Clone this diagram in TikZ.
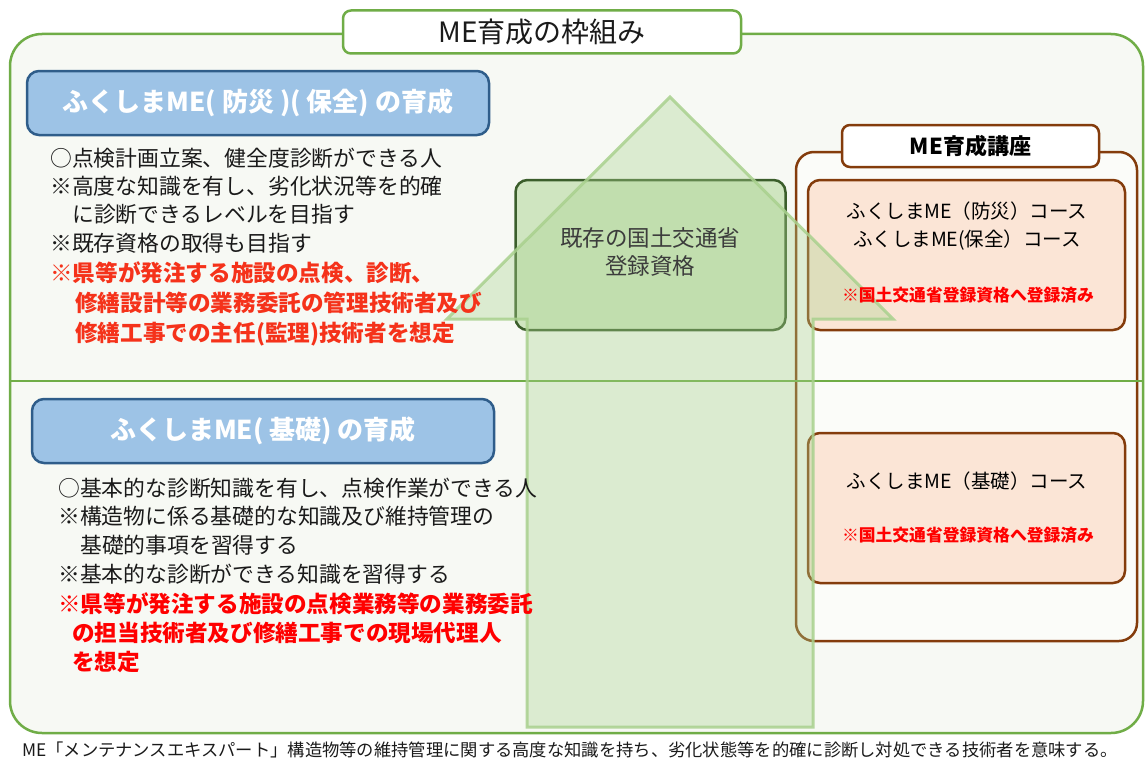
\documentclass[tikz,border=0pt]{standalone}
\usepackage{fontspec}
\setmainfont{Noto Sans CJK JP}
\definecolor{frameg}{HTML}{70AD47}
\definecolor{bgg}{HTML}{F7F9F4}
\definecolor{bluef}{HTML}{9DC3E6}
\definecolor{blued}{HTML}{2F5D8A}
\definecolor{arrowg}{HTML}{A9D18E}
\definecolor{boxg}{HTML}{CFE5C0}
\definecolor{boxgd}{HTML}{3B5E2B}
\definecolor{mebrown}{HTML}{843C0C}
\definecolor{salmon}{HTML}{FBE5D6}
\definecolor{redt}{HTML}{FF0000}
\definecolor{redo}{HTML}{F5321A}
\definecolor{txt}{HTML}{1A1A1A}
\newcommand\fsz[1]{\fontsize{#1}{#1}\selectfont}
\tikzset{
  ln/.style={anchor=west, inner sep=0pt, text=txt, font=\fsz{21.8}, text height=18.9pt, text depth=2.6pt},
  rl/.style={ln, text=redt, font=\fsz{22.6}\bfseries},
  ctr/.style={anchor=center, inner sep=0pt, text height=0.8em, text depth=0.2em},
  boxnode/.style={inner sep=0pt, line width=2.5pt},
  bluebox/.style={boxnode, draw=blued, fill=bluef, rounded corners=12pt, minimum width=462pt, minimum height=64pt, text=white, font=\fsz{26}\bfseries},
  salmonbox/.style={boxnode, draw=mebrown, fill=salmon, rounded corners=12pt, minimum width=317pt, minimum height=150pt},
}
\begin{document}
\begin{tikzpicture}[x=1pt,y=-1pt]
\useasboundingbox (0,0) rectangle (1145,760);
% outer frame
\node[boxnode, draw=frameg, fill=bgg, rounded corners=32pt, minimum width=1133pt, minimum height=699pt] (frame) at (576.5,383.5) {};
% brown container
\node[boxnode, draw=mebrown, fill=white, fill opacity=0.5, draw opacity=1, rounded corners=18pt, minimum width=341pt, minimum height=489pt] (course) at (966.5,396.5) {};
% divider
\coordinate (dl) at (10,381);
\coordinate (dr) at (1143,381);
\draw[frameg, line width=2.5pt] (dl) -- (dr);
% title box
\node[boxnode, draw=frameg, fill=white, rounded corners=8pt, minimum width=398pt, minimum height=43pt, font=\fsz{28}, text=txt] (title) at (542,32) {ME育成の枠組み};
% course label
\node[boxnode, draw=mebrown, fill=white, rounded corners=8pt, minimum width=257pt, minimum height=42pt, font=\fsz{22}\bfseries, text=black] (clabel) at (970.5,146) {ME育成講座};
% salmon boxes
\node[salmonbox] (s1) at (966.5,255) {};
\node[salmonbox] (s2) at (966.5,508) {};
% green box
\node[boxnode, draw=boxgd, fill=boxg, rounded corners=12pt, minimum width=270pt, minimum height=150pt] (gbox) at (650.5,255) {};
% arrow
\draw[arrowg, line width=3pt, fill=arrowg, fill opacity=0.35, draw opacity=0.85]
  (527,727) -- (527,319) -- (447,319) -- (670,97) -- (893,319) -- (813,319) -- (813,727) -- cycle;
% blue boxes
\node[bluebox] (b1) at (258,103) {ふくしまME( 防災 )( 保全) の育成};
\node[bluebox] (b2) at (263,431) {ふくしまME( 基礎) の育成};
% green box text
\node[ctr, font=\fsz{22.5}, text=txt!85] (g1) at (650,243) {既存の国土交通省};
\node[ctr, font=\fsz{22.5}, text=txt!85] (g2) at (650,271) {登録資格};
% salmon texts
\node[ctr, font=\fsz{19.5}, text=black] (s1a) at (967,215) {ふくしまME（防災）コース};
\node[ctr, font=\fsz{19.5}, text=black] (s1b) at (967,243) {ふくしまME(保全）コース};
\node[ctr, font=\fsz{16.8}\bfseries, text=redt] (s1c) at (968,298) {※国土交通省登録資格へ登録済み};
\node[ctr, font=\fsz{19.5}, text=black] (s2a) at (967,485) {ふくしまME（基礎）コース};
\node[ctr, font=\fsz{16.8}\bfseries, text=redt] (s2c) at (968,538) {※国土交通省登録資格へ登録済み};
% block 1
\node[ln] (t1) at (50,158) {○点検計画立案、健全度診断ができる人};
\node[ln] (t2) at (50,186) {※高度な知識を有し、劣化状況等を的確};
\node[ln] (t3) at (72,214) {に診断できるレベルを目指す};
\node[ln] (t4) at (50,243) {※既存資格の取得も目指す};
\node[rl, text=redo] (t5) at (50,273) {※県等が発注する施設の点検、診断、};
\node[rl, text=redo] (t6) at (75,303) {修繕設計等の業務委託の管理技術者及び};
\node[rl, text=redo] (t7) at (75,333) {修繕工事での主任(監理)技術者を想定};
% block 2
\node[ln] (u1) at (58,488) {○基本的な診断知識を有し、点検作業ができる人};
\node[ln] (u2) at (58,516) {※構造物に係る基礎的な知識及び維持管理の};
\node[ln] (u3) at (80,545) {基礎的事項を習得する};
\node[ln] (u4) at (58,574) {※基本的な診断ができる知識を習得する};
\node[rl] (u5) at (58,604) {※県等が発注する施設の点検業務等の業務委託};
\node[rl] (u6) at (72,633) {の担当技術者及び修繕工事での現場代理人};
\node[rl] (u7) at (72,662) {を想定};
% footnote
\node[ln, font=\fsz{17.3}] (foot) at (22,748) {ME「メンテナンスエキスパート」構造物等の維持管理に関する高度な知識を持ち、劣化状態等を的確に診断し対処できる技術者を意味する。};
\end{tikzpicture}
\end{document}
